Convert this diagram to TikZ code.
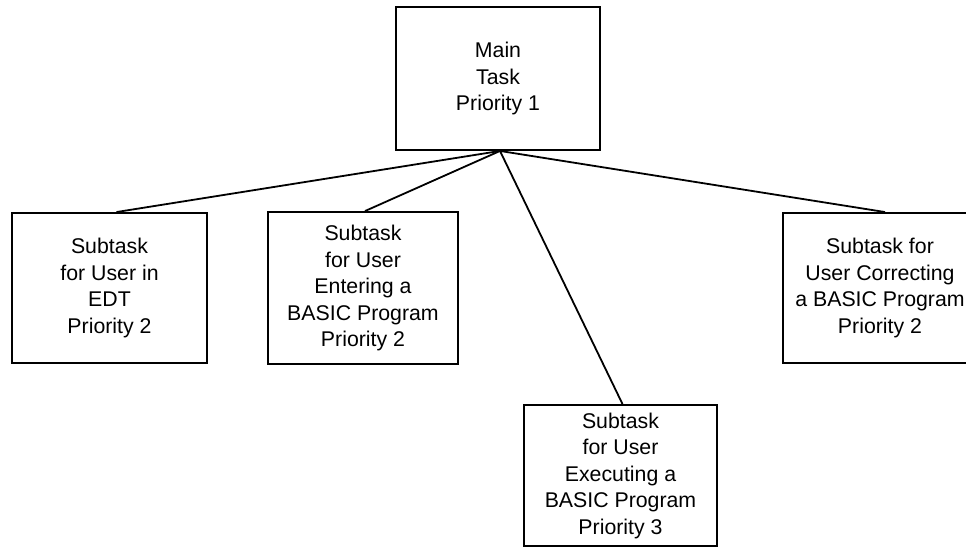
\documentclass[tikz,border=0pt]{standalone}
\usepackage{fontspec}
\setmainfont{Liberation Sans}
\begin{document}
\begin{tikzpicture}[x=1pt,y=-1pt,
  taskbox/.style={draw=black, line width=1.9pt, fill=white, align=center, inner sep=0pt,
    font=\fontsize{21.3}{26.5}\selectfont},
  link/.style={draw=black, line width=1.8pt}]
\useasboundingbox[fill=white] (0,0) rectangle (966,552);
\node[taskbox, minimum width=204pt, minimum height=143pt] (main) at (498,78.5) {Main\\Task\\Priority 1};
\node[taskbox, minimum width=195pt, minimum height=150pt] (edt) at (109.5,288) {Subtask\\for User in\\EDT\\Priority 2};
\node[taskbox, minimum width=190pt, minimum height=152pt] (enter) at (363,288) {Subtask\\for User\\Entering a\\BASIC Program\\Priority 2};
\node[taskbox, minimum width=194pt, minimum height=150pt] (correct) at (880,288) {Subtask for\\User Correcting\\a BASIC Program\\Priority 2};
\node[taskbox, minimum width=193pt, minimum height=141pt] (exec) at (620.5,475.5) {Subtask\\for User\\Executing a\\BASIC Program\\Priority 3};
\draw[link] ([xshift=2pt]main.south) -- ([xshift=7pt]edt.north);
\draw[link] ([xshift=2pt]main.south) -- ([xshift=2pt]enter.north);
\draw[link] ([xshift=2pt]main.south) -- ([xshift=5pt]correct.north);
\draw[link] ([xshift=2pt]main.south) -- ([xshift=2pt]exec.north);
\end{tikzpicture}
\end{document}
